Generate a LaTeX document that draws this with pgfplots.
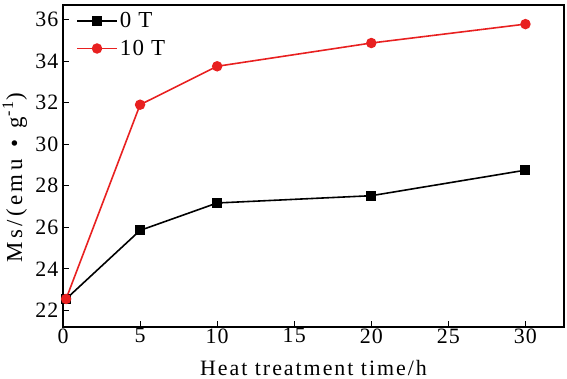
\documentclass[border=0pt]{standalone}
\usepackage{fontspec}
\setmainfont{Liberation Serif}
\usepackage{pgfplots}
\pgfplotsset{compat=1.18}
\definecolor{myred}{RGB}{232,32,32}
\newcommand{\tickfont}{\fontsize{22}{24}\selectfont\addfontfeature{LetterSpace=5}}
\newcommand{\labfont}{\fontsize{22}{24}\selectfont\addfontfeature{LetterSpace=9}}
\newcommand{\ylabfont}{\fontsize{23}{25}\selectfont\addfontfeature{LetterSpace=15}}
\begin{document}
\begin{tikzpicture}
\useasboundingbox (0,0) rectangle (567bp,379bp);
\begin{axis}[
  at={(63bp,52bp)}, anchor=south west,
  scale only axis,
  width=501bp, height=322bp,
  xmin=0, xmax=32.5,
  ymin=21.2, ymax=36.7,
  xtick={0,5,10,15,20,25,30},
  ytick={22,24,26,28,30,32,34,36},
  xticklabel={\pgfmathprintnumber[assume math mode=true]{\tick}},
  yticklabel={\pgfmathprintnumber[assume math mode=true]{\tick}},
  tick align=inside,
  xtick pos=bottom, ytick pos=left,
  major tick length=6bp,
  axis line style={line width=1.3pt},
  tick style={line width=1pt, black},
  tick label style={font=\tickfont},
  xticklabel style={yshift=2bp},
  yticklabel style={xshift=-1bp},
  xlabel={Heat treatment time/h},
  ylabel={Ms/(emu\enspace•\enspace g\textsuperscript{-1})},
  xlabel style={font=\labfont, at={(axis description cs:0.5,-0.127)}, anchor=center},
  ylabel style={font=\ylabfont, at={(axis description cs:-0.096,0.463)}, anchor=center},
  legend style={draw=none, fill=none, at={(0.022,0.99)}, anchor=north west,
    font=\fontsize{23}{25}\selectfont\addfontfeature{LetterSpace=6}, row sep=7bp, inner sep=2bp},
  legend cell align=left,
  legend image code/.code={
    \draw[#1] (0cm,0cm) -- (40bp,0cm);
    \draw[#1, only marks] plot coordinates {(20bp,0cm)};
  },
]
\addplot[black, line width=1.6pt, mark=square*, mark size=4.2bp] coordinates {
  (0.2,22.55) (5,25.85) (10,27.17) (20,27.52) (30,28.75)
};
\addlegendentry{0 T}
\addplot[myred, line width=1.6pt, mark=*, mark size=4.4bp] coordinates {
  (0.2,22.55) (5,31.9) (10,33.75) (20,34.87) (30,35.78)
};
\addlegendentry{10 T}
\end{axis}
\end{tikzpicture}
\end{document}
